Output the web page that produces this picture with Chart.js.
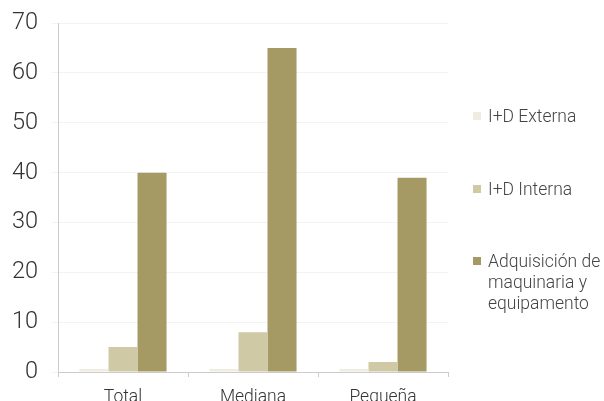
<!DOCTYPE html>
<html>
<head>
<meta charset="utf-8">
<script src="https://cdn.jsdelivr.net/npm/chart.js@4"></script>
<style>
  html, body { margin: 0; padding: 0; background: #fff; overflow: hidden; }
  #wrap { position: relative; width: 604px; height: 420px; }
  #legend { position: absolute; left: 473px; top: 0; font-family: Roboto, sans-serif; font-weight: 300; font-size: 17.5px; color: #444; }
  .item { position: absolute; left: 0; white-space: nowrap; line-height: 21px; }
  .box { position: absolute; left: 0; top: 6px; width: 8px; height: 8px; }
  .txt { position: absolute; left: 15px; top: 0; }
</style>
</head>
<body>
<div id="wrap">
  <canvas id="chart" width="604" height="420"></canvas>
  <div id="legend"></div>
</div>
<script>
// categories and series
const categories = ['Total', 'Mediana', 'Pequeña'];
const seriesNames = [['I+D Externa'], ['I+D Interna'], ['Adquisición de', 'maquinaria y', 'equipamento']];
const externa = [0.6, 0.6, 0.6];
const interna = [5, 8, 2];
const adquisicion = [40, 65, 39];
const colors = ['#efece0', '#cfc9a5', '#a59a64'];
const legendTops = [106, 179, 251];

const textFont = { family: 'Roboto', weight: 300 };

new Chart(document.getElementById('chart'), {
    type: 'bar',
    data: {
        labels: categories,
        datasets: [
            { label: seriesNames[0].join(' '), data: externa, backgroundColor: colors[0] },
            { label: seriesNames[1].join(' '), data: interna, backgroundColor: colors[1] },
            { label: seriesNames[2].join(' '), data: adquisicion, backgroundColor: colors[2] }
        ]
    },
    options: {
        responsive: false,
        animation: false,
        layout: { padding: { top: 2, right: 156, left: 0, bottom: 0 } },
        datasets: { bar: { categoryPercentage: 0.67, barPercentage: 1 } },
        plugins: { legend: { display: false }, tooltip: { enabled: false } },
        scales: {
            x: {
                grid: { display: true, drawOnChartArea: false, offset: true, tickLength: 5, color: '#cccccc' },
                border: { color: '#cccccc' },
                ticks: { color: '#333', font: { ...textFont, size: 17.5 }, padding: 10 },
                afterFit: s => { s.height = 48; }
            },
            y: {
                min: 0, max: 70,
                ticks: { stepSize: 10, color: '#333', font: { ...textFont, size: 23.5, lineHeight: 0.78 }, padding: 14 },
                grid: { color: '#f3f3f3', tickLength: 6 },
                border: { color: '#cccccc' },
                afterFit: s => { s.width = 58; }
            }
        }
    }
});

// legend on the right, built from the series names
const legend = document.getElementById('legend');
seriesNames.forEach((lines, i) => {
    const item = document.createElement('div');
    item.className = 'item';
    item.style.top = legendTops[i] + 'px';
    const box = document.createElement('span');
    box.className = 'box';
    box.style.background = colors[i];
    const txt = document.createElement('span');
    txt.className = 'txt';
    txt.innerHTML = lines.join('<br>');
    item.appendChild(box);
    item.appendChild(txt);
    legend.appendChild(item);
});
</script>
</body>
</html>
